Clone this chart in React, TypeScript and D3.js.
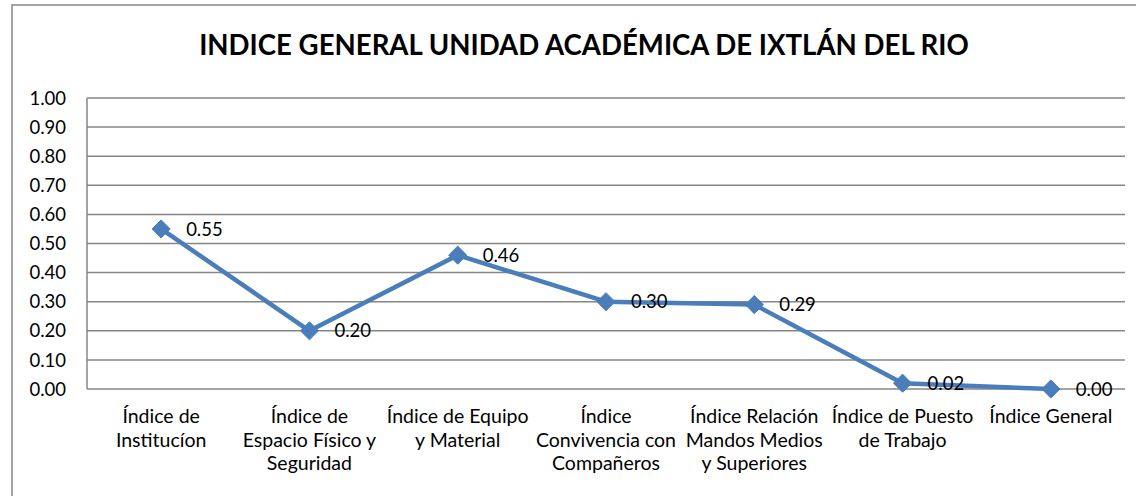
import React from "react";
import * as d3 from "d3";

const title = "INDICE GENERAL UNIDAD ACADÉMICA DE IXTLÁN DEL RIO";
const categories = [
  "Índice de\nInstitucíon",
  "Índice de\nEspacio Físico y\nSeguridad",
  "Índice de Equipo\ny Material",
  "Índice\nConvivencia con\nCompañeros",
  "Índice Relación\nMandos Medios\ny Superiores",
  "Índice de Puesto\nde Trabajo",
  "Índice General",
];
const values = [0.55, 0.2, 0.46, 0.3, 0.29, 0.02, 0.0];
const yTicks = [0, 0.1, 0.2, 0.3, 0.4, 0.5, 0.6, 0.7, 0.8, 0.9, 1.0];

const W = 1136;
const H = 496;
const FONT = "Lato, 'Open Sans', sans-serif";

export default function App() {
  const left = 87, right = 1125, top = 98, bottom = 389;
  const x = d3.scaleBand<number>().domain(d3.range(categories.length)).range([left, right]);
  const y = d3.scaleLinear().domain([0, 1]).range([bottom, top]);
  const cx = (i: number) => (x(i) as number) + x.bandwidth() / 2;
  const line = d3.line<number>().x((_, i) => cx(i)).y((d) => y(d));
  const diamond = d3.symbol().type(d3.symbolDiamond2 || d3.symbolDiamond).size(210)();
  const fmt = d3.format(".2f");
  const grid = "#868686";
  const blue = "#4A7EBB";

  return (
    <svg width={W} height={H} style={{ position: "absolute", left: 0, top: 0, background: "#fff" }} fontFamily={FONT}>
      <rect x={12} y={5} width={1200} height={600} fill="#fff" stroke={grid} strokeWidth={1.5} />
      <text x={584} y={55} textAnchor="middle" fontWeight="bold" fontSize={27.6} fill="#000">{title}</text>
      {yTicks.map((t) => (
        <g key={t}>
          <line x1={left} x2={right} y1={y(t)} y2={y(t)} stroke={grid} strokeWidth={1.5} />
          <text x={66} y={y(t)} dy="0.36em" textAnchor="end" fontSize={18.5} fill="#000">{fmt(t)}</text>
        </g>
      ))}
      <line x1={left} x2={left} y1={top} y2={bottom} stroke={grid} strokeWidth={1.5} />
      {categories.map((c, i) => (
        <text key={i} textAnchor="middle" fontSize={19.5} fill="#000">
          {c.split("\n").map((s, j) => (
            <tspan key={j} x={cx(i)} y={423 + j * 23.5}>{s}</tspan>
          ))}
        </text>
      ))}
      <path d={line(values) || ""} fill="none" stroke={blue} strokeWidth={4.5} strokeLinejoin="round" />
      {values.map((v, i) => (
        <path key={i} d={diamond || ""} transform={`translate(${cx(i)},${y(v)})`} fill={blue} stroke={blue} strokeWidth={1} />
      ))}
      {values.map((v, i) => (
        <text key={i} x={cx(i) + 25} y={y(v)} dy="0.36em" fontSize={18.5} fill="#000">{fmt(v)}</text>
      ))}
    </svg>
  );
}
